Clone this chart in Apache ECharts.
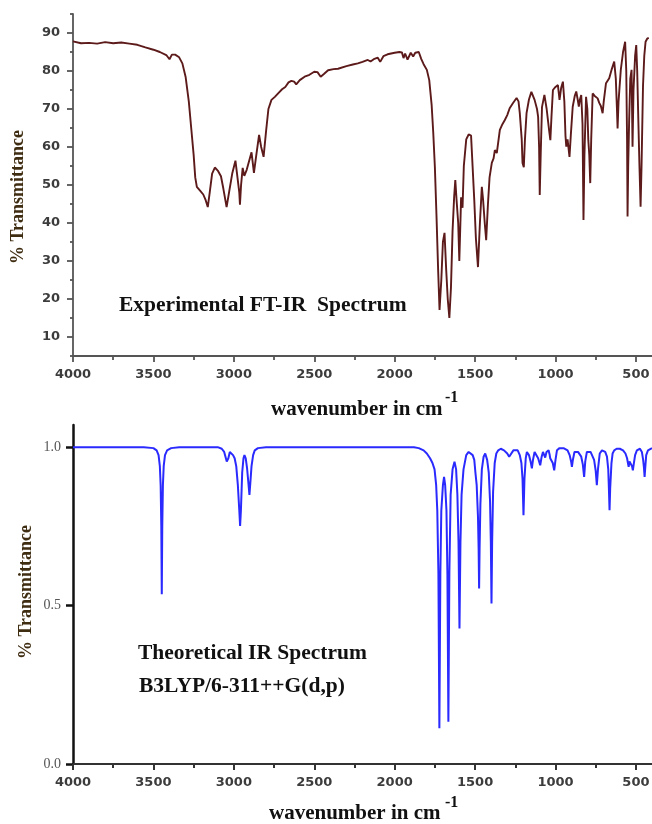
<!DOCTYPE html>
<html>
<head>
<meta charset="utf-8">
<title>FT-IR spectra</title>
<script src="https://cdn.jsdelivr.net/npm/echarts@6/dist/echarts.min.js"></script>
<style>
  html, body { margin: 0; padding: 0; background: #ffffff; }
  #chart { width: 652px; height: 824px; }
</style>
</head>
<body>
<div id="chart"></div>
<script>
// Experimental FT-IR spectrum: wavenumber (cm-1) and % transmittance
const expWavenumber = [
  4000, 3950, 3900, 3850, 3800, 3750, 3700, 3650, 3600, 3550, 3500, 3460, 3420, 3400, 3385, 3365,
  3340, 3320, 3300, 3280, 3265, 3250, 3240, 3230, 3210, 3190, 3175, 3162, 3150, 3135, 3118, 3100,
  3080, 3065, 3045, 3030, 3010, 2990, 2978, 2966, 2962, 2955, 2945, 2935, 2920, 2890, 2875, 2860,
  2843, 2830, 2815, 2800, 2785, 2766, 2745, 2723, 2700, 2680, 2660, 2642, 2625, 2612, 2590, 2560,
  2530, 2500, 2480, 2460, 2440, 2414, 2380, 2352, 2340, 2300, 2260, 2229, 2200, 2167, 2150, 2130,
  2105, 2090, 2070, 2044, 2000, 1970, 1955, 1945, 1935, 1920, 1900, 1885, 1872, 1850, 1835, 1820,
  1800, 1785, 1770, 1760, 1750, 1740, 1730, 1721, 1710, 1700, 1690, 1680, 1670, 1660, 1650, 1640,
  1630, 1623, 1615, 1605, 1598, 1590, 1587, 1578, 1570, 1555, 1540, 1525, 1515, 1505, 1495, 1482,
  1470, 1458, 1450, 1440, 1431, 1420, 1410, 1396, 1385, 1377, 1365, 1346, 1330, 1315, 1300, 1285,
  1265, 1242, 1230, 1222, 1210, 1205, 1197, 1190, 1180, 1165, 1150, 1130, 1115, 1108, 1102, 1098,
  1092, 1084, 1069, 1055, 1040, 1032, 1025, 1016, 1000, 985, 975, 965, 954, 945, 938, 933,
  925, 913, 905, 893, 880, 871, 862, 855, 848, 840, 832, 826, 820, 810, 802, 796,
  790, 784, 778, 769, 758, 748, 738, 728, 718, 707, 700, 686, 666, 650, 635, 625,
  618, 614, 608, 594, 580, 567, 560, 555, 552, 548, 542, 535, 527, 521, 515, 505,
  498, 492, 485, 478, 471, 465, 456, 448, 440, 430, 420
];
const expTransmittance = [
  87.8, 87.3, 87.4, 87.2, 87.6, 87.3, 87.5, 87.2, 86.9, 86.2, 85.6, 85.0, 84.2, 83.1, 84.3, 84.3,
  83.6, 82.0, 78.5, 72.0, 65.0, 58.0, 52.0, 49.5, 48.5, 47.5, 46.0, 44.2, 48.0, 53.0, 54.6, 53.8,
  52.3, 49.0, 44.2, 48.0, 53.0, 56.4, 56.0, 48.0, 44.8, 50.0, 54.5, 52.4, 54.0, 58.6, 53.2, 58.0,
  63.2, 60.0, 57.4, 64.0, 70.0, 72.4, 73.2, 74.2, 75.2, 75.8, 77.0, 77.4, 77.2, 76.5, 77.6, 78.5,
  79.0, 79.8, 79.7, 78.5, 79.2, 80.2, 80.5, 80.6, 80.2, 81.3, 81.7, 82.0, 82.4, 82.9, 82.5, 83.1,
  83.5, 82.4, 83.9, 84.4, 84.8, 85.0, 84.9, 83.4, 84.6, 83.0, 84.8, 83.8, 84.8, 85.0, 83.2, 81.8,
  80.3, 77.6, 71.0, 63.7, 54.7, 42.0, 28.0, 17.1, 25.0, 35.0, 37.4, 28.0, 20.0, 15.0, 23.0, 38.0,
  47.0, 51.3, 46.0, 40.0, 30.0, 42.0, 46.8, 44.0, 55.0, 62.0, 63.3, 63.0, 62.5, 46.0, 36.0, 28.4,
  40.0, 49.5, 46.0, 40.0, 35.5, 45.0, 52.0, 55.8, 57.0, 59.2, 58.4, 64.5, 66.0, 67.1, 68.4, 70.2,
  71.5, 72.9, 72.0, 68.9, 62.0, 55.8, 54.7, 62.0, 68.9, 72.5, 74.5, 72.4, 70.0, 67.9, 60.0, 47.4,
  58.0, 70.5, 73.7, 70.0, 64.5, 61.8, 68.0, 75.0, 75.8, 76.3, 72.4, 75.5, 77.2, 72.0, 63.0, 60.1,
  62.0, 57.4, 63.0, 70.6, 73.5, 74.6, 72.5, 70.6, 72.5, 73.7, 66.0, 40.8, 58.0, 73.2, 70.0, 61.8,
  58.0, 50.5, 62.0, 74.1, 73.5, 73.2, 72.8, 71.6, 70.8, 68.9, 72.0, 76.8, 78.1, 80.5, 82.5, 78.0,
  70.0, 64.9, 72.0, 80.3, 85.0, 87.7, 80.0, 62.0, 41.7, 55.0, 67.1, 78.0, 80.3, 60.1, 75.0, 84.0,
  86.8, 80.0, 67.1, 55.0, 44.3, 55.0, 75.9, 84.0, 87.7, 88.5, 88.7
];

// Theoretical IR spectrum, B3LYP/6-311++G(d,p): wavenumber (cm-1) and transmittance
const theoWavenumber = [
  4000, 3560, 3500, 3480, 3468, 3460, 3455, 3451, 3448, 3445, 3441, 3436, 3428, 3415, 3390, 3340,
  3100, 3075, 3060, 3052, 3044, 3040, 3034, 3025, 3015, 3005, 2995, 2985, 2975, 2966, 2961, 2956,
  2948, 2940, 2934, 2926, 2918, 2910, 2903, 2897, 2890, 2880, 2870, 2850, 2800,
  1880, 1850, 1820, 1800, 1780, 1765, 1752, 1742, 1735, 1728, 1722, 1716, 1710, 1700, 1693, 1686,
  1678, 1672, 1666, 1660, 1652, 1640, 1628, 1618, 1610, 1603, 1597, 1591, 1584, 1572, 1555, 1540,
  1530, 1515, 1505, 1498, 1490, 1482, 1478, 1475, 1472, 1467, 1458, 1447, 1437, 1425, 1415, 1407,
  1402, 1398, 1394, 1388, 1378, 1368, 1356, 1340, 1320, 1300, 1288, 1282, 1276, 1262, 1250, 1235,
  1222, 1212, 1205, 1199, 1193, 1185, 1178, 1165, 1155, 1147, 1140, 1130, 1120, 1108, 1095, 1086,
  1078, 1070, 1064, 1056, 1043, 1036, 1033, 1026, 1017, 1008, 1000, 991, 975, 950, 925, 912,
  903, 898, 892, 882, 871, 860, 851, 840, 830, 822, 815, 805, 795, 782, 774, 760,
  750, 743, 736, 725, 711, 700, 691, 680, 672, 668, 664, 660, 652, 645, 635, 620,
  600, 580, 565, 555, 548, 545, 540, 536, 530, 524, 519, 514, 505, 494, 475, 463,
  455, 450, 446, 442, 436, 425, 415, 400
];
const theoTransmittance = [
  1.0, 1.0, 0.997, 0.99, 0.975, 0.94, 0.88, 0.75, 0.536, 0.75, 0.88, 0.94, 0.975, 0.99, 0.997, 1.0,
  1.0, 0.995, 0.985, 0.97, 0.955, 0.949, 0.965, 0.985, 0.985, 0.975, 0.965, 0.94, 0.88, 0.80, 0.751, 0.80,
  0.92, 0.965, 0.975, 0.965, 0.935, 0.89, 0.849, 0.89, 0.94, 0.975, 0.99, 0.997, 1.0,
  1.0, 0.997, 0.99, 0.98, 0.965, 0.95, 0.93, 0.88, 0.80, 0.60, 0.113, 0.60, 0.80, 0.88, 0.906, 0.88,
  0.80, 0.60, 0.133, 0.60, 0.85, 0.93, 0.954, 0.93, 0.85, 0.70, 0.428, 0.70, 0.85, 0.93, 0.975, 0.985,
  0.99, 0.975, 0.96, 0.92, 0.88, 0.78, 0.68, 0.554, 0.68, 0.82, 0.93, 0.97, 0.98, 0.96, 0.92, 0.83,
  0.70, 0.507, 0.70, 0.86, 0.95, 0.98, 0.99, 0.995, 0.99, 0.98, 0.97, 0.964, 0.975, 0.99, 0.995, 0.99,
  0.975, 0.95, 0.90, 0.785, 0.90, 0.965, 0.985, 0.975, 0.955, 0.933, 0.96, 0.985, 0.98, 0.965, 0.943, 0.97,
  0.985, 0.98, 0.967, 0.985, 0.99, 0.975, 0.965, 0.97, 0.95, 0.927, 0.96, 0.99, 0.997, 0.997, 0.99, 0.975,
  0.955, 0.938, 0.96, 0.985, 0.99, 0.985, 0.982, 0.97, 0.945, 0.906, 0.955, 0.985, 0.99, 0.985, 0.982, 0.96,
  0.925, 0.88, 0.93, 0.98, 0.99, 0.99, 0.985, 0.97, 0.93, 0.87, 0.801, 0.87, 0.95, 0.98, 0.99, 0.995,
  0.995, 0.99, 0.98, 0.965, 0.945, 0.938, 0.955, 0.95, 0.955, 0.94, 0.927, 0.945, 0.975, 0.99, 0.995, 0.985,
  0.96, 0.935, 0.906, 0.935, 0.975, 0.99, 0.995, 0.997
];

// Axis ticks and labels
const waveMajorTicks = [4000, 3500, 3000, 2500, 2000, 1500, 1000, 500];
const waveMinorTicks = [3750, 3250, 2750, 2250, 1750, 1250, 750];
const expMajorTicks = [10, 20, 30, 40, 50, 60, 70, 80, 90];
const expMinorTicks = [5, 15, 25, 35, 45, 55, 65, 75, 85, 95];
const theoTicks = [0, 0.5, 1.0];

const WAVE_MIN = 400, WAVE_MAX = 4000;
const EXP_MIN = 5, EXP_MAX = 95;
const THEO_MIN = 0, THEO_MAX = 1.07;

const expColor = '#5c1a1a';
const theoColor = '#2a2aff';
const topAxisColor = '#555555';
const tickFont = { fontFamily: 'DejaVu Sans', fontWeight: 'bold', fontSize: 13, color: '#3c3c3c' };
const titleFont = 'bold 21px "Liberation Serif", "Times New Roman", serif';
const captionFont = 'bold 21.5px "Liberation Serif", "Times New Roman", serif';
const supFont = 'bold 16px "Liberation Serif", "Times New Roman", serif';
const yTitleFont = 'bold 18px "Liberation Serif", "Times New Roman", serif';

const zip = (xs, ys) => xs.map((x, i) => [x, ys[i]]);
const plain = (v) => String(v);

const topRect = { left: 73, top: 14, width: 579, height: 342, containLabel: false, outerBoundsMode: 'none' };
const botRect = { left: 73, top: 425, width: 579, height: 339, containLabel: false, outerBoundsMode: 'none' };

function waveAxis(gridIndex, lineColor, lineWidth, ticks, tickLen, withLine, withLabels) {
  return {
    type: 'value', gridIndex: gridIndex, min: WAVE_MIN, max: WAVE_MAX, inverse: true,
    axisLine: { show: withLine, onZero: false, lineStyle: { color: lineColor, width: lineWidth } },
    axisTick: { show: true, customValues: ticks, length: tickLen, lineStyle: { color: lineColor, width: lineWidth } },
    axisLabel: withLabels
      ? Object.assign({ show: true, customValues: ticks, margin: 12, formatter: plain }, tickFont)
      : { show: false },
    splitLine: { show: false }
  };
}

function valueAxis(gridIndex, min, max, lineColor, lineWidth, ticks, tickLen, withLine, labelOpt) {
  return {
    type: 'value', gridIndex: gridIndex, min: min, max: max,
    axisLine: { show: withLine, onZero: false, lineStyle: { color: lineColor, width: lineWidth } },
    axisTick: { show: true, customValues: ticks, length: tickLen, lineStyle: { color: lineColor, width: lineWidth } },
    axisLabel: labelOpt ? Object.assign({ show: true, customValues: ticks }, labelOpt) : { show: false },
    splitLine: { show: false }
  };
}

function textEl(text, x, y, font, fill, align, rotation) {
  return {
    type: 'text', x: x, y: y, rotation: rotation || 0, silent: true,
    style: {
      text: text, font: font, fill: fill,
      align: align, textAlign: align,
      verticalAlign: 'middle', textVerticalAlign: 'middle'
    }
  };
}

const chart = echarts.init(document.getElementById('chart'), null, { renderer: 'canvas' });

chart.setOption({
  animation: false,
  backgroundColor: '#ffffff',
  grid: [
    Object.assign({}, topRect),
    Object.assign({}, topRect),
    Object.assign({}, botRect),
    Object.assign({}, botRect)
  ],
  xAxis: [
    waveAxis(0, topAxisColor, 1.8, waveMajorTicks, 6, true, true),
    waveAxis(1, topAxisColor, 1.8, waveMinorTicks, 4, false, false),
    waveAxis(2, '#333333', 2, waveMajorTicks, 6, true, true),
    waveAxis(3, '#333333', 2, waveMinorTicks, 4, false, false)
  ],
  yAxis: [
    valueAxis(0, EXP_MIN, EXP_MAX, topAxisColor, 1.8, expMajorTicks, 6, true,
      Object.assign({ margin: 13, formatter: plain }, tickFont)),
    valueAxis(1, EXP_MIN, EXP_MAX, topAxisColor, 1.8, expMinorTicks, 3, false, null),
    valueAxis(2, THEO_MIN, THEO_MAX, '#111111', 2.5, theoTicks, 7, true, {
      margin: 12, fontFamily: 'Liberation Serif', fontSize: 14, color: '#555555',
      formatter: (v) => v.toFixed(1)
    }),
    valueAxis(3, THEO_MIN, THEO_MAX, '#111111', 2.5, [], 0, false, null)
  ],
  series: [
    {
      name: 'Experimental FT-IR', type: 'line', xAxisIndex: 0, yAxisIndex: 0,
      data: zip(expWavenumber, expTransmittance),
      symbol: 'none', showSymbol: false,
      lineStyle: { color: expColor, width: 1.9 }
    },
    {
      name: 'Theoretical IR', type: 'line', xAxisIndex: 2, yAxisIndex: 2,
      data: zip(theoWavenumber, theoTransmittance),
      symbol: 'none', showSymbol: false,
      lineStyle: { color: theoColor, width: 2 }
    }
  ],
  graphic: [
    // in-plot captions
    textEl('Experimental FT-IR  Spectrum', 119, 305, captionFont, '#111111', 'left'),
    textEl('Theoretical IR Spectrum', 138, 653, captionFont, '#111111', 'left'),
    textEl('B3LYP/6-311++G(d,p)', 139, 686, captionFont, '#111111', 'left'),
    // x axis titles with superscript
    textEl('wavenumber in cm', 271, 410, titleFont, '#111111', 'left'),
    textEl('-1', 445, 398, supFont, '#111111', 'left'),
    textEl('wavenumber in cm', 269, 814, titleFont, '#111111', 'left'),
    textEl('-1', 445, 803, supFont, '#111111', 'left'),
    // y axis titles
    textEl('% Transmittance', 18.5, 197, yTitleFont, '#3f2d12', 'center', Math.PI / 2),
    textEl('% Transmittance', 26, 592, yTitleFont, '#3f2d12', 'center', Math.PI / 2)
  ]
});
</script>
</body>
</html>
